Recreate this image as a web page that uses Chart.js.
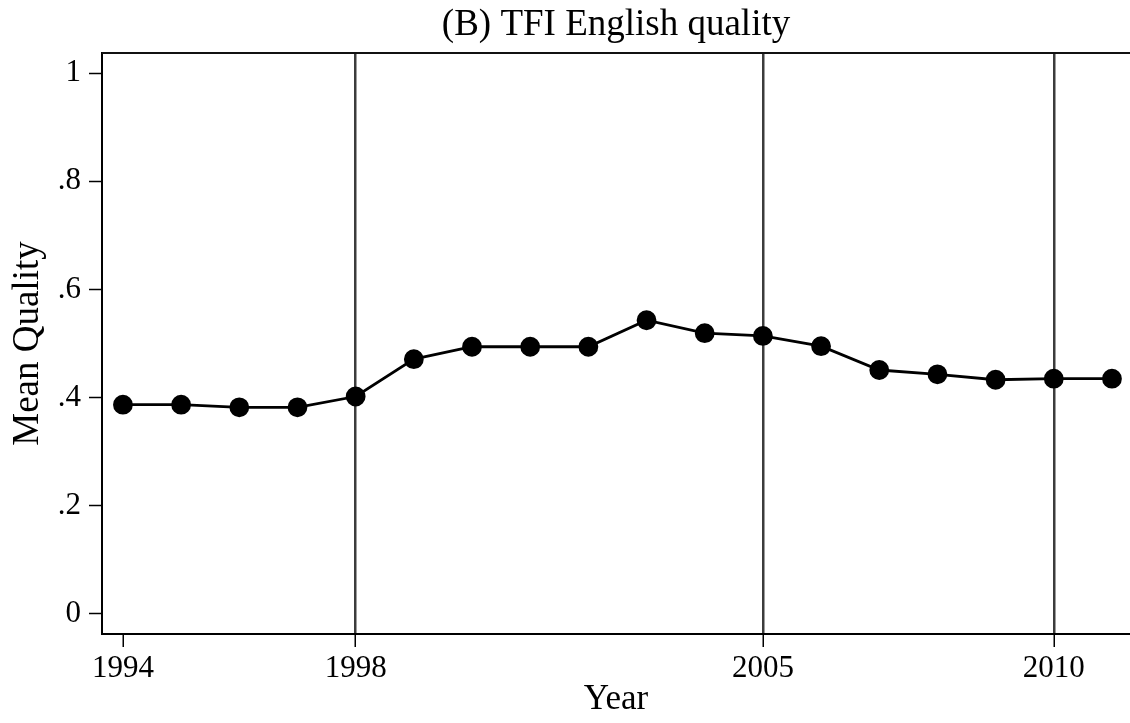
<!DOCTYPE html>
<html>
<head>
<meta charset="utf-8">
<script src="https://cdn.jsdelivr.net/npm/chart.js@4/dist/chart.umd.min.js"></script>
<style>
  html, body { margin: 0; padding: 0; background: #fff; }
  #wrap { width: 1130px; height: 723px; }
</style>
</head>
<body>
<div id="wrap"><canvas id="grafico"></canvas></div>
<script>
// DADOS
const years = [1994, 1995, 1996, 1997, 1998, 1999, 2000, 2001, 2002, 2003, 2004, 2005, 2006, 2007, 2008, 2009, 2010, 2011];
const quality = [0.387, 0.387, 0.382, 0.382, 0.402, 0.471, 0.494, 0.494, 0.494, 0.543, 0.519, 0.514, 0.495, 0.451, 0.443, 0.433, 0.435, 0.435];
const xTicks = [1994, 1998, 2005, 2010];
const refLines = [1998, 2005, 2010];
const yTicks = [0, 0.2, 0.4, 0.6, 0.8, 1];
const yLabels = ['0', '.2', '.4', '.6', '.8', '1'];
const chartTitle = '(B) TFI English quality';

const serif = '"Liberation Serif", "DejaVu Serif", serif';

// título centrado no painel + borda superior
const painel = {
    id: 'painel',
    afterDraw(chart) {
        const { ctx, chartArea } = chart;
        ctx.save();
        ctx.strokeStyle = '#111';
        ctx.lineWidth = 2;
        ctx.beginPath();
        ctx.moveTo(chartArea.left, chartArea.top);
        ctx.lineTo(chartArea.right, chartArea.top);
        ctx.stroke();

        ctx.fillStyle = '#000';
        ctx.font = '37px ' + serif;
        ctx.textAlign = 'center';
        ctx.textBaseline = 'middle';
        ctx.fillText(chartTitle, (chartArea.left + chartArea.right) / 2, 25);
        ctx.restore();
    }
};

new Chart(document.getElementById('grafico'), {
    type: 'line',
    data: {
        datasets: [{
            data: years.map((y, i) => ({ x: y, y: quality[i] })),
            borderColor: '#000',
            backgroundColor: '#000',
            borderWidth: 2.8,
            pointRadius: 8.5,
            pointHoverRadius: 8.5,
            tension: 0
        }]
    },
    plugins: [painel],
    options: {
        responsive: true,
        maintainAspectRatio: false,
        animation: false,
        layout: { padding: { top: 53, left: 0, right: 0, bottom: 0 }, autoPadding: false },
        plugins: {
            legend: { display: false },
            tooltip: { enabled: false },
            title: { display: false }
        },
        scales: {
            x: {
                type: 'linear',
                min: 1993.64,
                max: 2011.31,
                afterBuildTicks: axis => { axis.ticks = xTicks.map(v => ({ value: v })); },
                afterFit: axis => { axis.height = 89; },
                grid: {
                    drawOnChartArea: true,
                    color: c => (refLines.includes(c.tick && c.tick.value) ? '#3c3c3c' : 'rgba(0,0,0,0)'),
                    lineWidth: 2.5,
                    tickColor: '#000',
                    tickLength: 13,
                    tickWidth: 1.5
                },
                border: { display: true, color: '#000', width: 2 },
                ticks: {
                    color: '#000',
                    font: { family: serif, size: 31 },
                    padding: 3,
                    maxRotation: 0,
                    callback: v => String(v)
                },
                title: {
                    display: true,
                    text: 'Year',
                    color: '#000',
                    font: { family: serif, size: 35 },
                    padding: { top: 0, bottom: 2 }
                }
            },
            y: {
                min: -0.037,
                max: 1.037,
                afterBuildTicks: axis => { axis.ticks = yTicks.map(v => ({ value: v })); },
                afterFit: axis => { axis.width = 102; },
                grid: {
                    drawOnChartArea: false,
                    tickColor: '#000',
                    tickLength: 13,
                    tickWidth: 1.5
                },
                border: { display: true, color: '#000', width: 2 },
                ticks: {
                    color: '#000',
                    font: { family: serif, size: 31 },
                    padding: 8,
                    callback: (v, i) => yLabels[i]
                },
                title: {
                    display: true,
                    text: 'Mean Quality',
                    color: '#000',
                    font: { family: serif, size: 37 },
                    padding: { top: 6, bottom: 0 }
                }
            }
        }
    }
});
</script>
</body>
</html>
